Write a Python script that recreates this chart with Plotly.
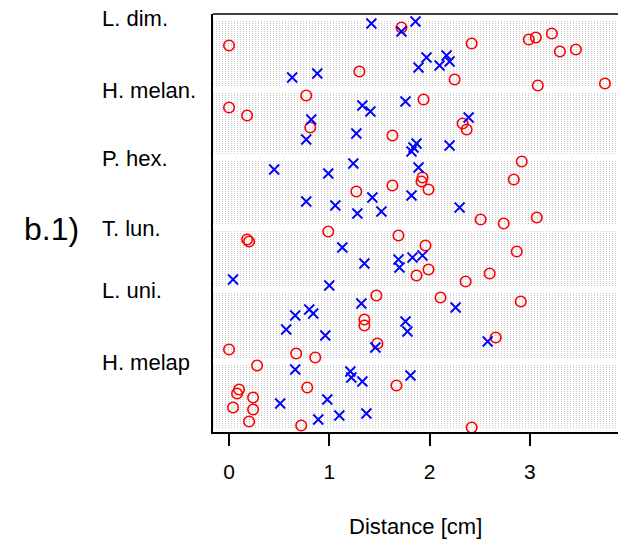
import plotly.graph_objects as go

# Groups (top to bottom) and the row span each one occupies in the dot chart
GROUPS = ["L. dim.", "H. melan.", "P. hex.", "T. lun.", "L. uni.", "H. melap"]
GROUP_FIRST_ROW = [205, 169, 135, 100, 69, 33]
GROUP_LAST_ROW = [173, 139, 104, 73, 37, 2]

# Red circles: row of each observation and its distance [cm]
circle_rows = [
    202, 197, 199, 196, 194, 193, 191, 190, 180, 176, 174, 173,
    168, 166, 162, 158, 154, 152, 151, 148,
    135, 127, 126, 125, 123, 121, 120, 107, 106, 104,
    100, 98, 96, 95, 93, 90, 81, 79, 78, 75,
    68, 67, 65, 56, 53, 47, 44, 41, 39, 37,
    33, 23, 22, 21, 19, 17, 12, 11, 5, 3, 2,
]
circle_dist = [
    1.72, 3.06, 3.22, 2.99, 2.42, 0.00, 3.46, 3.30, 1.30, 2.25, 3.75, 3.08,
    0.77, 1.94, 0.00, 0.18, 2.33, 0.81, 2.37, 1.63,
    2.92, 1.93, 2.84, 1.92, 1.63, 1.99, 1.27, 3.07, 2.51, 2.74,
    0.99, 1.69, 0.18, 0.20, 1.96, 2.87, 1.99, 2.60, 1.87, 2.36,
    1.47, 2.11, 2.91, 1.35, 1.35, 2.66, 1.48, 0.00, 0.67, 0.86,
    0.28, 1.67, 0.78, 0.10, 0.08, 0.24, 0.04, 0.24, 0.20, 0.72, 2.42,
]

# Blue crosses: row of each observation and its distance [cm]
cross_rows = [
    205, 204, 200, 188, 187, 185, 183, 182, 179, 177,
    165, 163, 160, 157, 156, 149, 146, 144, 143, 142, 140,
    134, 132, 131, 129, 118, 117, 115, 113, 112, 110, 109,
    92, 88, 87, 86, 84, 82, 76, 73,
    64, 62, 61, 59, 58, 55, 51, 50, 48, 45, 42,
    31, 30, 28, 27, 25, 16, 14, 9, 8, 6,
]
cross_dist = [
    1.86, 1.42, 1.72, 2.17, 1.97, 2.20, 2.10, 1.89, 0.88, 0.63,
    1.76, 1.33, 1.41, 2.39, 0.82, 1.27, 0.77, 1.87, 2.20, 1.84, 1.82,
    1.24, 1.89, 0.45, 0.99, 1.82, 1.43, 0.77, 1.06, 2.30, 1.52, 1.28,
    1.13, 1.93, 1.83, 1.69, 1.35, 1.70, 0.04, 1.00,
    1.32, 2.26, 0.80, 0.84, 0.66, 1.76, 0.57, 1.78, 0.96, 2.58, 1.46,
    0.66, 1.21, 1.81, 1.22, 1.33, 0.98, 0.51, 1.37, 1.10, 0.89,
]

X_TICKS = [0, 1, 2, 3]
X_RANGE = [-0.16, 3.88]
Y_RANGE = [-0.25, 208.75]
FONT = "Liberation Sans, Arial, sans-serif"

# one dotted light-grey guide line per row of every group
guide_x, guide_y = [], []
for first, last in zip(GROUP_FIRST_ROW, GROUP_LAST_ROW):
    for r in range(last, first + 1):
        guide_x += [X_RANGE[0], X_RANGE[1], None]
        guide_y += [r, r, None]

fig = go.Figure()
fig.add_trace(go.Scatter(
    x=guide_x, y=guide_y, mode="lines",
    line=dict(color="#cacaca", width=1, dash="1px,2px"),
    hoverinfo="skip", showlegend=False,
))
fig.add_trace(go.Scatter(
    x=circle_dist, y=circle_rows, mode="markers",
    marker=dict(symbol="circle-open", size=10.5, color="#ff0000",
                line=dict(color="#ff0000", width=1.6)),
    showlegend=False,
))
fig.add_trace(go.Scatter(
    x=cross_dist, y=cross_rows, mode="markers",
    marker=dict(symbol="x-thin-open", size=10, color="#0000ff",
                line=dict(color="#0000ff", width=1.8)),
    showlegend=False,
))

annotations = []
for name, row in zip(GROUPS, GROUP_FIRST_ROW):
    annotations.append(dict(
        text=name, xref="paper", yref="y", x=(100 - 213) / 405, y=row + 1.3,
        xanchor="left", yanchor="middle", showarrow=False,
        font=dict(family=FONT, size=22, color="black"),
    ))
annotations.append(dict(
    text="b.1)", xref="paper", yref="y", x=(22 - 213) / 405, y=101.5,
    xanchor="left", yanchor="middle", showarrow=False,
    font=dict(family=FONT, size=32, color="black"),
))
annotations.append(dict(
    text="Distance [cm]", xref="paper", yref="paper", x=0.5, y=(432 - 526) / 418,
    xanchor="center", yanchor="middle", showarrow=False,
    font=dict(family=FONT, size=22, color="black"),
))

fig.update_layout(
    width=618, height=542,
    margin=dict(l=213, r=0, t=14, b=110),
    paper_bgcolor="white", plot_bgcolor="white",
    font=dict(family=FONT, size=22, color="black"),
    annotations=annotations,
    shapes=[dict(type="line", xref="paper", yref="paper", x0=0, x1=1, y0=1, y1=1,
                 line=dict(color="black", width=1.6))],
    xaxis=dict(
        range=X_RANGE, tickvals=X_TICKS, ticktext=[str(t) for t in X_TICKS],
        ticks="outside", ticklen=12, tickwidth=1.6, tickcolor="black",
        ticklabelstandoff=8,
        showline=True, linecolor="black", linewidth=1.6,
        showgrid=False, zeroline=False,
        tickfont=dict(family=FONT, size=21, color="black"),
    ),
    yaxis=dict(
        range=Y_RANGE, showticklabels=False, ticks="",
        showline=True, linecolor="black", linewidth=1.6,
        showgrid=False, zeroline=False,
    ),
)

fig.write_html("out.html")
